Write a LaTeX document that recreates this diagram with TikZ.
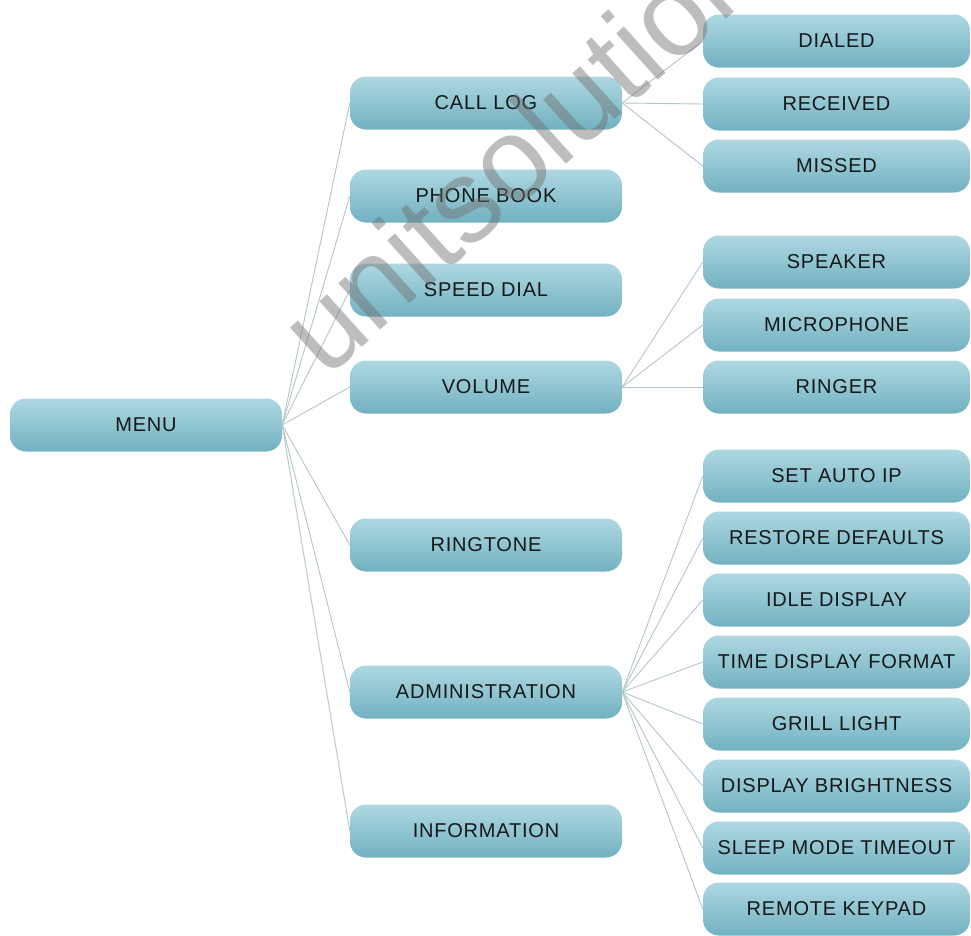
\documentclass[tikz,border=0pt]{standalone}
\usepackage{fontspec}
\setmainfont[LetterSpace=4]{Liberation Sans}
\newfontfamily\wmfont{Liberation Sans}
\definecolor{boxtop}{HTML}{AED8E2}
\definecolor{boxbot}{HTML}{72B1C1}
\definecolor{linkclr}{HTML}{B5C6CA}
\definecolor{txtclr}{HTML}{15181B}
\definecolor{wmclr}{HTML}{6E6E6E}
\tikzset{
  menubox/.style={rounded corners=16pt, top color=boxtop, bottom color=boxbot, draw=none,
    minimum height=53pt, inner sep=0pt, text=txtclr,
    font=\fontsize{20}{20}\selectfont},
  lvltwo/.style={menubox, minimum width=272pt},
  lvlthree/.style={menubox, minimum width=267pt},
  link/.style={draw=linkclr, line width=0.9pt}
}
\begin{document}
\begin{tikzpicture}[x=1pt,y=-1pt]
\useasboundingbox (0,0) rectangle (971,935);
\clip (0,0) rectangle (971,935);
\fill[white] (0,0) rectangle (971,935);

% level 1
\node[lvltwo] (menu) at (146,425) {MENU};

% level 2
\node[lvltwo] (calllog) at (486,103) {CALL LOG};
\node[lvltwo] (phonebook) at (486,196) {PHONE BOOK};
\node[lvltwo] (speeddial) at (486,290) {SPEED DIAL};
\node[lvltwo] (volume) at (486,387) {VOLUME};
\node[lvltwo] (ringtone) at (486,545) {RINGTONE};
\node[lvltwo] (admin) at (486,692) {ADMINISTRATION};
\node[lvltwo] (info) at (486,831) {INFORMATION};

% level 3
\node[lvlthree] (dialed) at (836.5,41) {DIALED};
\node[lvlthree] (received) at (836.5,104) {RECEIVED};
\node[lvlthree] (missed) at (836.5,166) {MISSED};
\node[lvlthree] (speaker) at (836.5,262) {SPEAKER};
\node[lvlthree] (micro) at (836.5,325) {MICROPHONE};
\node[lvlthree] (ringer) at (836.5,387) {RINGER};
\node[lvlthree] (autoip) at (836.5,476) {SET AUTO IP};
\node[lvlthree] (restore) at (836.5,538) {RESTORE DEFAULTS};
\node[lvlthree] (idle) at (836.5,600) {IDLE DISPLAY};
\node[lvlthree] (timefmt) at (836.5,662) {TIME DISPLAY FORMAT};
\node[lvlthree] (grill) at (836.5,724) {GRILL LIGHT};
\node[lvlthree] (bright) at (836.5,786) {DISPLAY BRIGHTNESS};
\node[lvlthree] (sleep) at (836.5,848) {SLEEP MODE TIMEOUT};
\node[lvlthree] (keypad) at (836.5,909) {REMOTE KEYPAD};

% connectors
\foreach \c in {calllog,phonebook,speeddial,volume,ringtone,admin,info}
  \draw[link] (menu.east) -- (\c.west);
\foreach \c in {dialed,received,missed}
  \draw[link] (calllog.east) -- (\c.west);
\foreach \c in {speaker,micro,ringer}
  \draw[link] (volume.east) -- (\c.west);
\foreach \c in {autoip,restore,idle,timefmt,grill,bright,sleep,keypad}
  \draw[link] (admin.east) -- (\c.west);

% watermark
\node[anchor=base west, rotate=42, text=wmclr, opacity=0.45, inner sep=0pt,
  font=\wmfont\fontsize{118}{118}\selectfont] (wm) at (326,380) {unitsolutions};
\end{tikzpicture}
\end{document}
